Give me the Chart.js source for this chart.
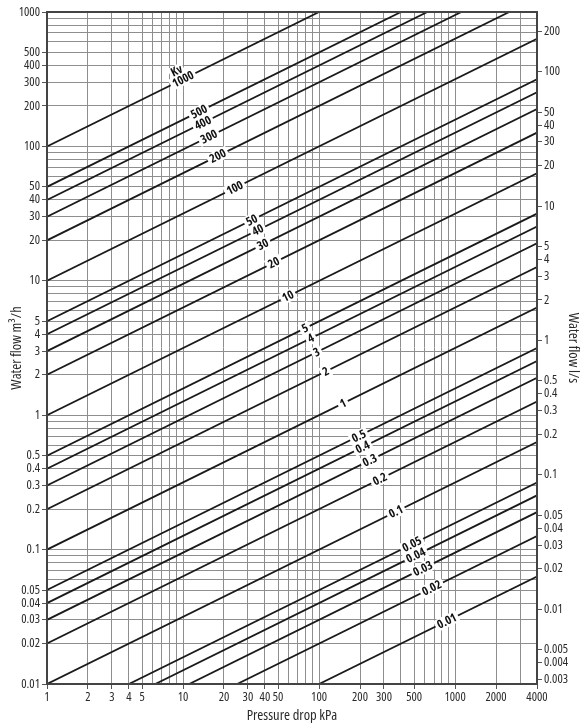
<!DOCTYPE html>
<html><head><meta charset="utf-8">
<script src="https://cdn.jsdelivr.net/npm/chart.js@4.4.1/dist/chart.umd.min.js"></script>
<style>html,body{margin:0;padding:0;background:#fff}#wrap{width:582px;height:725px;position:relative}</style>
</head><body><div id="wrap"><canvas id="c" width="582" height="725"></canvas></div>
<script>
const FAMILY = "'Open Sans','DejaVu Sans Condensed',sans-serif";
const STRETCH = 'condensed';

// Kv lines (valve flow coefficient, m3/h at 1 bar)
const kvLabels = ['1000','500','400','300','200','100','50','40','30','20','10','5','4','3','2','1','0.5','0.4','0.3','0.2','0.1','0.05','0.04','0.03','0.02','0.01'];
// where each line enters the plot (pressure kPa, flow m3/h)
const startPressure = [1,1,1,1,1,1,1,1,1,1,1,1,1,1,1,1,1,1,1,1,1,4,6.25,11.1,25,100];
const startFlow = [100,50,40,30,20,10,5,4,3,2,1,0.5,0.4,0.3,0.2,0.1,0.05,0.04,0.03,0.02,0.01,0.01,0.01,0.01,0.01,0.01];
// where each line leaves the plot
const endPressure = [100,400,625,1111,2500,4000,4000,4000,4000,4000,4000,4000,4000,4000,4000,4000,4000,4000,4000,4000,4000,4000,4000,4000,4000,4000];
const endFlow = [1000,1000,1000,1000,1000,632,316,253,190,126.5,63.2,31.6,25.3,19.0,12.65,6.32,3.16,2.53,1.90,1.265,0.632,0.316,0.253,0.190,0.126,0.063];
// pressure at which each Kv label sits on its line
const labelPressure = [10,13.1,14,15.5,18,24,32,35.5,38.6,46.5,59,78.7,87,96,112,150,196,209,236,280,367,481,514,579,674,869];

// axes
const pressureGrid = [1,2,3,4,5,6,7,8,9,10,20,30,40,50,60,70,80,90,100,200,300,400,500,600,700,800,900,1000,2000,3000,4000];
const pressureTickLabels = [1,2,3,4,5,10,20,30,40,50,100,200,300,500,1000,2000,4000];
const flowGrid = [0.01,0.02,0.03,0.04,0.05,0.06,0.07,0.08,0.09,0.1,0.2,0.3,0.4,0.5,0.6,0.7,0.8,0.9,1,2,3,4,5,6,7,8,9,10,20,30,40,50,60,70,80,90,100,200,300,400,500,600,700,800,900,1000];
const flowTickLabels = [0.01,0.02,0.03,0.04,0.05,0.1,0.2,0.3,0.4,0.5,1,2,3,4,5,10,20,30,40,50,100,200,300,400,500,1000];
const litreTickLabels = [0.003,0.004,0.005,0.01,0.02,0.03,0.04,0.05,0.1,0.2,0.3,0.4,0.5,1,2,3,4,5,10,20,30,40,50,100,200];
const M3H_PER_LS = 3.6;

function inList(v, list){ return list.some(l => Math.abs(v - l) <= l * 1e-6); }
const GRID = '#8e8e8e', TICKC = '#555', TXT = '#2a2a2a';
const tickFont = { family: FAMILY, size: 12.5, weight: STRETCH };
const titleFont = { family: FAMILY, size: 14.5, weight: STRETCH };

const labelPlugin = {
  id: 'kvLabels',
  afterDatasetsDraw(chart){
    const ctx = chart.ctx, xs = chart.scales.x, ys = chart.scales.y, a = chart.chartArea;
    ctx.save();
    ctx.beginPath(); ctx.rect(a.left, a.top, a.right - a.left, a.bottom - a.top); ctx.clip();
    ctx.font = "bold condensed 12px " + FAMILY;
    ctx.textAlign = 'center'; ctx.textBaseline = 'middle';
    kvLabels.forEach((lab, i) => {
      const x0 = xs.getPixelForValue(startPressure[i]), y0 = ys.getPixelForValue(startFlow[i]);
      const x1 = xs.getPixelForValue(endPressure[i]), y1 = ys.getPixelForValue(endFlow[i]);
      const px = xs.getPixelForValue(labelPressure[i]);
      const t = (px - x0) / (x1 - x0);
      const py = y0 + t * (y1 - y0);
      const ang = Math.atan2(y1 - y0, x1 - x0);
      ctx.save();
      ctx.translate(px, py); ctx.rotate(ang);
      const w = ctx.measureText(lab).width + 5;
      ctx.fillStyle = '#fff'; ctx.fillRect(-w/2, -6, w, 12);
      ctx.fillStyle = '#111'; ctx.fillText(lab, 0, 0.5);
      if (i === 0) {
        const wk = ctx.measureText('Kv').width + 4;
        ctx.fillStyle = '#fff'; ctx.fillRect(-2 - wk/2, -16, wk, 11);
        ctx.fillStyle = '#111'; ctx.fillText('Kv', -2, -10);
      }
      ctx.restore();
    });
    ctx.restore();
  },
  afterDraw(chart){
    const ctx = chart.ctx, a = chart.chartArea;
    ctx.save();
    ctx.strokeStyle = '#444'; ctx.lineWidth = 2;
    ctx.strokeRect(a.left, a.top, a.right - a.left, a.bottom - a.top);
    ctx.restore();
  }
};

const datasets = kvLabels.map((lab, i) => ({
  label: lab,
  data: [{x: startPressure[i], y: startFlow[i]}, {x: endPressure[i], y: endFlow[i]}],
  borderColor: '#1a1a1a', borderWidth: 1.8, pointRadius: 0, tension: 0,
  xAxisID: 'x', yAxisID: 'y'
}));

new Chart(document.getElementById('c'), {
  type: 'line',
  data: { datasets },
  plugins: [labelPlugin],
  options: {
    responsive: false, animation: false, devicePixelRatio: 1,
    layout: { padding: { top: 12, left: 0, right: 0, bottom: 0 } },
    plugins: { legend: { display: false }, tooltip: { enabled: false } },
    scales: {
      x: {
        type: 'logarithmic', position: 'bottom', min: 1, max: 4000,
        afterBuildTicks: s => { s.ticks = pressureGrid.map(v => ({ value: v })); },
        afterFit: s => { s.height = 41; },
        ticks: { autoSkip: false, maxRotation: 0, minRotation: 0, padding: 1, color: TXT,
          font: tickFont,
          callback: v => inList(v, pressureTickLabels) ? String(v) : '' },
        grid: { color: GRID, lineWidth: 1, tickLength: 5,
          tickColor: c => (c.tick && inList(c.tick.value, pressureTickLabels)) ? TICKC : 'rgba(0,0,0,0)' },
        border: { color: '#444', width: 2 },
        title: { display: true, text: 'Pressure drop kPa', color: TXT,
          font: titleFont, padding: { top: 6, bottom: 0 } }
      },
      y: {
        type: 'logarithmic', position: 'left', min: 0.01, max: 1000,
        afterBuildTicks: s => { s.ticks = flowGrid.map(v => ({ value: v })); },
        afterFit: s => { s.width = 47; },
        ticks: { autoSkip: false, padding: 2, color: TXT, font: tickFont,
          callback: v => inList(v, flowTickLabels) ? String(v) : '' },
        grid: { color: GRID, lineWidth: 1, tickLength: 5,
          tickColor: c => (c.tick && inList(c.tick.value, flowTickLabels)) ? TICKC : 'rgba(0,0,0,0)' },
        border: { color: '#444', width: 2 },
        title: { display: true, text: 'Water flow m³/h', color: TXT,
          font: titleFont, padding: { top: 8, bottom: 0 } }
      },
      y2: {
        type: 'logarithmic', position: 'right', min: 0.01 / M3H_PER_LS, max: 1000 / M3H_PER_LS,
        afterBuildTicks: s => { s.ticks = litreTickLabels.map(v => ({ value: v })); },
        afterFit: s => { s.width = 45; },
        ticks: { autoSkip: false, padding: 2, color: TXT, font: tickFont,
          callback: v => String(v) },
        grid: { drawOnChartArea: false, tickLength: 5, tickColor: TICKC },
        border: { color: '#444', width: 2 },
        title: { display: true, text: 'Water flow l/s', color: TXT,
          font: titleFont, padding: { top: 0, bottom: 6 } }
      }
    }
  }
});
</script></body></html>
